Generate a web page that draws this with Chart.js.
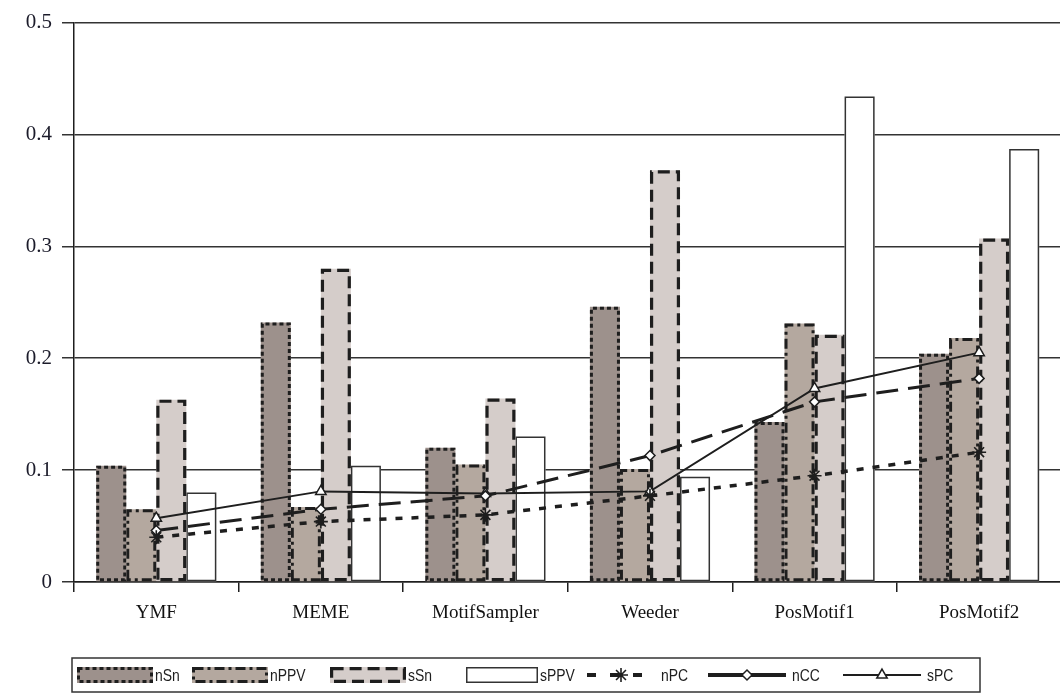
<!DOCTYPE html>
<html>
<head>
<meta charset="utf-8">
<script src="https://cdn.jsdelivr.net/npm/chart.js@4.4.1/dist/chart.umd.min.js"></script>
<style>
  html, body { margin: 0; padding: 0; background: #fff; overflow: hidden; }
  #wrap { width: 1070px; height: 694px; }
</style>
</head>
<body>
<div id="wrap"><canvas id="c" width="1070" height="694"></canvas></div>
<script>
// Motif finder evaluation: sensitivity / PPV / correlation per tool
const categories = ['YMF', 'MEME', 'MotifSampler', 'Weeder', 'PosMotif1', 'PosMotif2'];
const nSn  = [0.104, 0.232, 0.120, 0.246, 0.143, 0.204];
const nPPV = [0.065, 0.067, 0.105, 0.101, 0.231, 0.218];
const sSn  = [0.163, 0.280, 0.164, 0.368, 0.221, 0.307];
const sPPV = [0.080, 0.104, 0.130, 0.094, 0.434, 0.387];
const nPC  = [0.040, 0.054, 0.060, 0.077, 0.095, 0.116];
const nCC  = [0.046, 0.065, 0.077, 0.113, 0.161, 0.182];
const sPC  = [0.057, 0.081, 0.079, 0.081, 0.173, 0.205];
const yTickValues = [0, 0.1, 0.2, 0.3, 0.4, 0.5];
const yTickLabels = ['0', '0.1', '0.2', '0.3', '0.4', '0.5'];

const INK = '#1e1e1e';

// Bar series styles: fill plus a dashed outline pattern
const barStyles = {
  nSn:  { fill: '#9d918c', dash: [4, 3],        width: 3,   stroke: INK },
  nPPV: { fill: '#b4a89f', dash: [10, 4, 3, 4], width: 3,   stroke: INK },
  sSn:  { fill: '#d5cdca', dash: [12, 6],       width: 3.2, stroke: INK },
  sPPV: { fill: '#ffffff', dash: [],            width: 1.5, stroke: '#333' }
};

function barDataset(label, data) {
  const st = barStyles[label];
  return {
    type: 'bar', label, data, order: 2,
    backgroundColor: st.fill, borderWidth: 0,
    barPercentage: 1.0, categoryPercentage: 0.73,
    outline: st
  };
}

const datasets = [
  barDataset('nSn', nSn),
  barDataset('nPPV', nPPV),
  barDataset('sSn', sSn),
  barDataset('sPPV', sPPV),
  {
    type: 'line', label: 'nPC', data: nPC, order: 1,
    borderColor: INK, borderWidth: 3.5, borderDash: [7, 9],
    pointStyle: 'star', pointRadius: 7, pointBorderWidth: 1.6,
    pointBorderColor: INK, pointBackgroundColor: INK, tension: 0
  },
  {
    type: 'line', label: 'nCC', data: nCC, order: 1,
    borderColor: INK, borderWidth: 3, borderDash: [22, 10],
    pointStyle: 'rectRot', pointRadius: 5, pointBorderWidth: 1.5,
    pointBorderColor: INK, pointBackgroundColor: '#fff', tension: 0
  },
  {
    type: 'line', label: 'sPC', data: sPC, order: 1,
    borderColor: INK, borderWidth: 2, borderDash: [],
    pointStyle: 'triangle', pointRadius: 6, pointBorderWidth: 1.5,
    pointBorderColor: INK, pointBackgroundColor: '#fff', tension: 0
  }
];

// Dashed outlines for the bars, stroked right after each bar dataset
const barOutline = {
  id: 'barOutline',
  afterDatasetDraw(chart, args) {
    const ds = chart.data.datasets[args.index];
    if (!ds.outline) return;
    const st = ds.outline;
    const ctx = chart.ctx;
    ctx.save();
    ctx.strokeStyle = st.stroke;
    ctx.lineWidth = st.width;
    ctx.setLineDash(st.dash);
    args.meta.data.forEach(el => {
      const p = el.getProps(['x', 'y', 'base', 'width'], true);
      const h = st.width / 2;
      const l = p.x - p.width / 2 + h, r = p.x + p.width / 2 - h;
      const t = Math.min(p.y, p.base) + h, b = Math.max(p.y, p.base) - h;
      ctx.beginPath();
      ctx.moveTo(l, b);
      ctx.lineTo(l, t);
      ctx.lineTo(r, t);
      ctx.lineTo(r, b);
      ctx.closePath();
      ctx.stroke();
    });
    ctx.restore();
  }
};

// Boxed legend row under the axis
const legendSlots = [77, 192, 330, 466, 587, 708, 843];
const boxLegend = {
  id: 'boxLegend',
  afterDraw(chart) {
    const ctx = chart.ctx;
    const top = 658, bottom = 692, left = 72, right = 980;
    ctx.save();
    ctx.strokeStyle = '#333';
    ctx.lineWidth = 1.5;
    ctx.setLineDash([]);
    ctx.strokeRect(left, top, right - left, bottom - top);
    ctx.textBaseline = 'middle';
    const cy = (top + bottom) / 2;
    chart.data.datasets.forEach((ds, i) => {
      let x = legendSlots[i];
      if (ds.outline) {
        const st = ds.outline;
        const w = ds.label === 'sPPV' ? 72 : 76, hgt = 16;
        ctx.fillStyle = st.fill;
        ctx.fillRect(x, cy - hgt / 2, w, hgt);
        ctx.strokeStyle = st.stroke;
        ctx.lineWidth = st.width;
        ctx.setLineDash(st.dash);
        ctx.strokeRect(x + st.width / 2, cy - hgt / 2 + st.width / 2, w - st.width, hgt - st.width);
        ctx.setLineDash([]);
        x += w + 2;
      } else {
        const w = ds.label === 'nPC' ? 68 : 78;
        ctx.strokeStyle = INK;
        ctx.lineWidth = ds.label === 'sPC' ? 2 : 4;
        ctx.setLineDash(ds.label === 'nPC' ? [9, 14] : []);
        ctx.beginPath();
        ctx.moveTo(x, cy);
        ctx.lineTo(x + w, cy);
        ctx.stroke();
        ctx.setLineDash([]);
        ctx.fillStyle = ds.pointBackgroundColor;
        ctx.strokeStyle = ds.pointBorderColor;
        ctx.lineWidth = ds.pointBorderWidth;
        Chart.helpers.drawPoint(ctx, {
          pointStyle: ds.pointStyle, rotation: 0,
          radius: ds.pointRadius, borderWidth: ds.pointBorderWidth
        }, x + w / 2, cy);
        x += w + 6;
      }
      ctx.save();
      ctx.translate(x, cy + 1);
      ctx.scale(0.82, 1);
      ctx.font = '17px "Liberation Sans", Arial, sans-serif';
      ctx.fillStyle = INK;
      ctx.fillText(ds.label, 0, 0);
      ctx.restore();
    });
    ctx.restore();
  }
};

new Chart(document.getElementById('c'), {
  data: { labels: categories, datasets },
  plugins: [barOutline, boxLegend],
  options: {
    responsive: false,
    devicePixelRatio: 1,
    animation: false,
    layout: { padding: { left: 0, right: 3, top: 22, bottom: 60 } },
    plugins: { legend: { display: false }, tooltip: { enabled: false } },
    scales: {
      x: {
        offset: true,
        grid: { offset: true, drawOnChartArea: false, drawTicks: true, tickLength: 10, color: INK, lineWidth: 1.5 },
        border: { color: INK, width: 1.5 },
        ticks: { font: { family: '"Liberation Serif", "Times New Roman", serif', size: 19 }, color: '#111', padding: 10, maxRotation: 0, autoSkip: false },
        afterFit(s) { s.height = 52; }
      },
      y: {
        min: 0, max: 0.5,
        afterBuildTicks(s) { s.ticks = yTickValues.map(v => ({ value: v })); },
        ticks: {
          callback: (v, i) => yTickLabels[i],
          font: { family: '"Liberation Serif", "Times New Roman", serif', size: 21 },
          color: '#1b1b2a', padding: 10
        },
        grid: { color: '#333', lineWidth: 1.5, tickLength: 12, drawTicks: true },
        border: { color: INK, width: 1.5 },
        afterFit(s) { s.width = 74; }
      }
    }
  }
});
</script>
</body>
</html>
